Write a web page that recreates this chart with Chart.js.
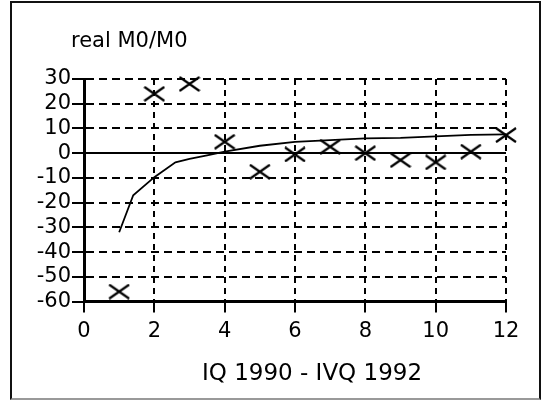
<!DOCTYPE html>
<html>
<head>
<meta charset="utf-8">
<title>real M0/M0</title>
<script src="https://cdn.jsdelivr.net/npm/chart.js@4/dist/chart.umd.min.js"></script>
<style>
  body {
    margin: 0;
    background: #ffffff;
  }
  #wrap {
    position: relative;
    width: 542px;
    height: 405px;
  }
  #frame {
    position: absolute;
    left: 10px;
    top: 1px;
    width: 527px;
    height: 395px;
    border: 2px solid #111;
    border-bottom-color: #999;
    pointer-events: none;
  }
  #grafico {
    position: absolute;
    left: 0;
    top: 0;
  }
</style>
</head>
<body>
<div id="wrap">
  <canvas id="grafico" width="542" height="405"></canvas>
  <div id="frame"></div>
</div>

<script>
const titulo = "real M0/M0";
const tituloX = "IQ 1990 - IVQ 1992";

// observed quarters (crosses)
const trimestres = [1, 2, 3, 4, 5, 6, 7, 8, 9, 10, 11, 12];
const valores = [-56, 24, 28, 4.6, -7.5, -0.5, 2.6, 0, -2.8, -3.7, 0.6, 7.3];

// fitted curve
const curvaX = [1, 1.4, 2, 2.6, 3, 3.5, 4, 5, 6, 7, 8, 9, 10, 11, 12];
const curvaY = [-32, -17, -9.7, -3.7, -2.3, -0.9, 0.6, 3, 4.6, 5.3, 6, 6.2, 6.8, 7.4, 7.6];

const yMin = -60;
const yMax = 30;
const yPasso = 10;
const xMin = 0;
const xMax = 12;
const xPasso = 2;

let chart;

document.addEventListener("DOMContentLoaded", () => {
  inicializarGrafico();
});

function criarCruz() {
  const c = document.createElement("canvas");
  c.width = 22;
  c.height = 16;
  const ctx = c.getContext("2d");
  ctx.strokeStyle = "#000";
  ctx.lineWidth = 2.2;
  ctx.beginPath();
  ctx.moveTo(1, 1);
  ctx.lineTo(21, 15);
  ctx.moveTo(21, 1);
  ctx.lineTo(1, 15);
  ctx.stroke();
  return c;
}

const textos = {
  id: "textos",
  afterDraw(chart) {
    const ctx = chart.ctx;
    ctx.save();
    ctx.fillStyle = "#000";
    ctx.font = "21px 'DejaVu Sans'";
    ctx.textAlign = "left";
    ctx.textBaseline = "alphabetic";
    ctx.fillText(titulo, 71, 47);
    ctx.font = "23px 'DejaVu Sans'";
    ctx.textAlign = "center";
    ctx.textBaseline = "middle";
    ctx.fillText(tituloX, 312, 374);
    ctx.restore();
  },
};

const linhaZero = {
  id: "linhaZero",
  beforeDatasetsDraw(chart) {
    const ctx = chart.ctx;
    const area = chart.chartArea;
    const y = Math.round(chart.scales.y.getPixelForValue(0));
    ctx.save();
    ctx.strokeStyle = "#000";
    ctx.lineWidth = 2;
    ctx.beginPath();
    ctx.moveTo(area.left, y);
    ctx.lineTo(area.right, y);
    ctx.stroke();
    ctx.restore();
  },
};

function inicializarGrafico() {
  const ctx = document.getElementById("grafico").getContext("2d");
  const pontos = trimestres.map((t, i) => ({ x: t, y: valores[i] }));
  const curva = curvaX.map((t, i) => ({ x: t, y: curvaY[i] }));

  chart = new Chart(ctx, {
    type: "scatter",
    data: {
      datasets: [
        {
          data: curva,
          showLine: true,
          borderColor: "#000",
          borderWidth: 1.8,
          pointRadius: 0,
          tension: 0,
        },
        {
          data: pontos,
          showLine: false,
          pointStyle: criarCruz(),
          pointRadius: 8,
          clip: false,
        },
      ],
    },
    options: {
      responsive: false,
      devicePixelRatio: 1,
      animation: false,
      layout: {
        padding: { left: 0, top: 79, right: 36, bottom: 0 },
      },
      plugins: {
        legend: { display: false },
        tooltip: { enabled: false },
      },
      scales: {
        x: {
          type: "linear",
          min: xMin,
          max: xMax,
          afterFit: (s) => {
            s.height = 103.5;
          },
          ticks: {
            stepSize: xPasso,
            autoSkip: false,
            color: "#000",
            padding: 6,
            maxRotation: 0,
            font: { size: 21, family: "DejaVu Sans" },
          },
          grid: {
            color: "#000",
            lineWidth: 2,
            tickLength: 11,
            tickColor: "#000",
            tickWidth: 2,
          },
          border: {
            color: "#000",
            width: 3,
            dash: [6, 5],
          },
        },
        y: {
          min: yMin,
          max: yMax,
          afterFit: (s) => {
            s.width = 84;
          },
          ticks: {
            stepSize: yPasso,
            autoSkip: false,
            color: "#000",
            padding: 1,
            font: { size: 21, family: "DejaVu Sans" },
          },
          grid: {
            color: "#000",
            lineWidth: 2,
            tickLength: 12,
            tickColor: "#000",
            tickWidth: 2,
          },
          border: {
            color: "#000",
            width: 3,
            dash: [8, 5],
          },
        },
      },
    },
    plugins: [linhaZero, textos],
  });
}
</script>
</body>
</html>
